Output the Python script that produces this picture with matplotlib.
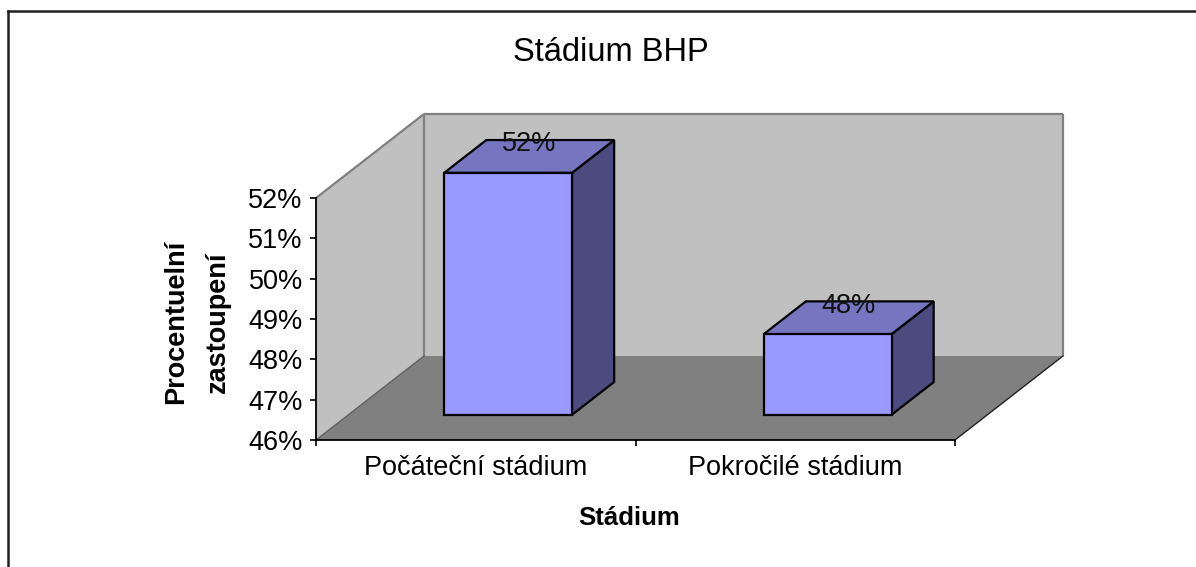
import matplotlib
matplotlib.use("Agg")
import matplotlib.pyplot as plt
from matplotlib.patches import Polygon
from matplotlib.lines import Line2D
from matplotlib.ticker import FuncFormatter

categories = ['Počáteční stádium', 'Pokročilé stádium']
values = [52, 48]
y_ticks = [46, 47, 48, 49, 50, 51, 52]
title = 'Stádium BHP'
x_label = 'Stádium'
y_label = 'Procentuelní\nzastoupení'

plt.rcParams['font.family'] = ['Liberation Sans', 'DejaVu Sans']

W, H = 1196, 567
fig = plt.figure(figsize=(W / 100, H / 100), dpi=100)

# 3D projection parameters (data units)
DX = 0.338        # depth offset in category units
DY = 2.083        # depth offset in value units
ymin, ymax = y_ticks[0], y_ticks[-1]
bar_w = 0.40
d_front, d_back = 0.30, 0.69

ax_left, ax_right, ax_bottom, ax_top = 316, 1063, 440, 113
px_per_unit = (440 - 198) / (ymax - ymin)
ylim_top = ymin + (ax_bottom - ax_top) / px_per_unit
ax = fig.add_axes([ax_left / W, 1 - ax_bottom / H, (ax_right - ax_left) / W,
                   (ax_bottom - ax_top) / H])
n = len(categories)
ax.set_xlim(0, n + DX)
ax.set_ylim(ymin, ylim_top)
ax.patch.set_visible(False)

wall = '#C0C0C0'
floor = '#808080'
edge_gray = '#808080'

# floor
ax.add_patch(Polygon([(0, ymin), (n, ymin), (n + DX, ymin + DY), (DX, ymin + DY)],
                     closed=True, facecolor=floor, edgecolor='none', zorder=1))
# back wall
ax.add_patch(Polygon([(DX, ymin + DY), (n + DX, ymin + DY), (n + DX, ymax + DY), (DX, ymax + DY)],
                     closed=True, facecolor=wall, edgecolor='none', zorder=1))
# left wall
ax.add_patch(Polygon([(0, ymin), (DX, ymin + DY), (DX, ymax + DY), (0, ymax)],
                     closed=True, facecolor=wall, edgecolor='none', zorder=1))
# wall edges
kw = dict(color=edge_gray, lw=1.6, zorder=2, clip_on=False, solid_capstyle='butt')
ax.plot([0, DX], [ymax, ymax + DY], **kw)
ax.plot([DX, n + DX], [ymax + DY, ymax + DY], **kw)
ax.plot([DX, DX], [ymin + DY, ymax + DY], **kw)
ax.plot([n + DX, n + DX], [ymin + DY, ymax + DY], **kw)
ax.plot([0, DX], [ymin, ymin + DY], color='#606060', lw=1.0, zorder=2)
ax.plot([n, n + DX], [ymin, ymin + DY], color='#202020', lw=1.0, zorder=2, clip_on=False)

front_c = '#9999FF'
top_c = '#7676C0'
side_c = '#4B4B80'
for i, v in enumerate(values):
    c = i + 0.5
    x0 = c - bar_w / 2 + d_front * DX
    x1 = c + bar_w / 2 + d_front * DX
    y0 = ymin + d_front * DY
    y1 = v + d_front * DY
    ddx = (d_back - d_front) * DX
    ddy = (d_back - d_front) * DY
    ekw = dict(closed=True, edgecolor='black', lw=1.6, joinstyle='miter', zorder=3)
    ax.add_patch(Polygon([(x1, y0), (x1 + ddx, y0 + ddy), (x1 + ddx, y1 + ddy), (x1, y1)],
                         facecolor=side_c, **ekw))
    ax.add_patch(Polygon([(x0, y1), (x1, y1), (x1 + ddx, y1 + ddy), (x0 + ddx, y1 + ddy)],
                         facecolor=top_c, **ekw))
    ax.add_patch(Polygon([(x0, y0), (x1, y0), (x1, y1), (x0, y1)],
                         facecolor=front_c, **ekw))
    ax.text(c + (d_front + d_back) / 2 * DX, v + d_back * DY - 0.28, f'{v}%',
            ha='center', va='baseline', fontsize=19.5, color='#111111', zorder=5)

# axes styling
for s in ['top', 'right']:
    ax.spines[s].set_visible(False)
ax.spines['left'].set_bounds(ymin, ymax)
ax.spines['bottom'].set_bounds(0, n)
ax.spines['left'].set_linewidth(1.3)
ax.spines['bottom'].set_linewidth(1.3)
ax.spines['left'].set_zorder(4)
ax.spines['bottom'].set_zorder(4)

ax.set_yticks(y_ticks)
ax.yaxis.set_major_formatter(FuncFormatter(lambda v, p: f'{int(round(v))}%'))
ax.tick_params(axis='y', direction='out', length=4.5, width=1.2, pad=5, labelsize=19.5)

ax.set_xticks([i + 0.5 for i in range(n)])
ax.set_xticklabels(categories)
ax.set_xticks(list(range(n + 1)), minor=True)
ax.tick_params(axis='x', which='major', length=0, pad=11, labelsize=19.5)
ax.tick_params(axis='x', which='minor', direction='out', length=4.5, width=1.2)

fig.text(611 / W, 1 - 61 / H, title, ha='center', va='baseline', fontsize=23.5)
fig.text(629 / W, 1 - 525 / H, x_label, ha='center', va='baseline', fontsize=18.5,
         fontweight='bold')
fig.text(197 / W, 1 - 322 / H, y_label, ha='center', va='center', rotation=90,
         fontsize=19.5, fontweight='bold', multialignment='center', linespacing=1.8)

# outer frame (chart area border)
fig.add_artist(Line2D([7.5 / W, 7.5 / W], [0, 1 - 10.5 / H], color='#202020', lw=1.8,
                      transform=fig.transFigure))
fig.add_artist(Line2D([7.5 / W, 1], [1 - 10.5 / H, 1 - 10.5 / H], color='#202020', lw=1.8,
                      transform=fig.transFigure))

fig.savefig('out.png', dpi=100)
